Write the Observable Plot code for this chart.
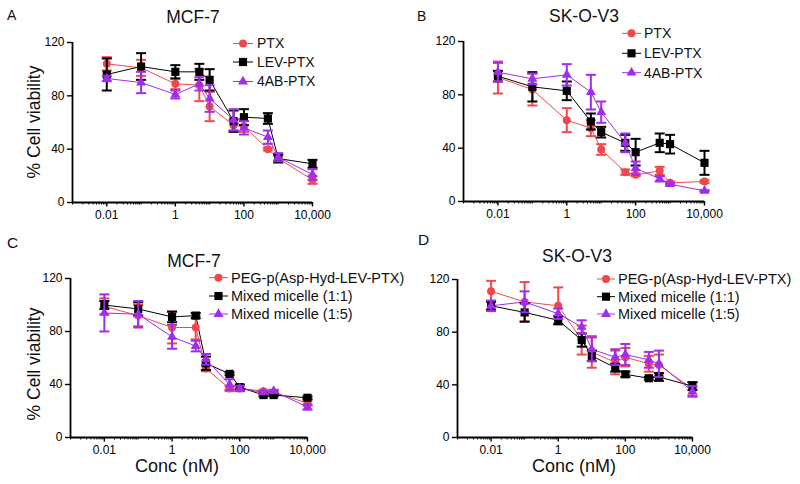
<!DOCTYPE html>
<html><head><meta charset="utf-8">
<script src="https://cdn.jsdelivr.net/npm/d3@7"></script>
<script src="https://cdn.jsdelivr.net/npm/@observablehq/plot@0.6"></script>
<style>
html,body{margin:0;padding:0;background:#fff;}
#root{position:relative;width:800px;height:484px;overflow:hidden;font-family:"Liberation Sans",Arial,sans-serif;}
.panel{position:absolute;width:400px;}
.panel svg{background:transparent;}
#overlay{position:absolute;left:0;top:0;pointer-events:none;overflow:visible;}
</style></head><body><div id="root"></div>
<script>
// ---------- shared axis data ----------
const conc = [0.01, 0.1, 1, 5, 10, 50, 100, 500, 1000, 10000];
const xDomain = [0.001, 10000];
const xTickValues = [0.01, 1, 100, 10000];
const xTickLabels = ["0.01", "1", "100", "10,000"];
const yTickValues = [0, 40, 80, 120];
const yDomain = [0, 120];

// ---------- series names ----------
const topNames = ["PTX", "LEV-PTX", "4AB-PTX"];
const bottomNames = ["PEG-p(Asp-Hyd-LEV-PTX)", "Mixed micelle (1:1)", "Mixed micelle (1:5)"];

// ---------- Panel A: MCF-7 ----------
const aPTX    = [104, 101, 89, 88, 72, 58, 57, 40, 33, 17];
const aPTXErr = [5, 6, 4, 12, 11, 4, 4, 1, 2, 3];
const aLEV    = [96, 102, 98, 98, 92, 61, 64, 63, 33, 29];
const aLEVErr = [12, 10, 5, 6, 8, 8, 6, 4, 3, 3];
const a4AB    = [93, 90, 81, 89, 78, 62, 56, 49, 34, 21];
const a4ABErr = [2, 8, 3, 5, 10, 8, 5, 5, 3, 4];

// ---------- Panel B: SK-O-V3 ----------
const bPTX    = [93, 84, 61, 55, 39, 22, 20, 23, 14, 15];
const bPTXErr = [12, 12, 9, 6, 4, 2, 1, 3, 1, 1];
const bLEV    = [94, 86, 83, 60, 52, 44, 37, 44, 43, 29];
const bLEVErr = [4, 11, 7, 6, 4, 6, 10, 7, 7, 9];
const b4AB    = [97, 92, 95, 82, 67, 44, 25, 17, 13, 8];
const b4ABErr = [7, 4, 8, 13, 8, 7, 5, 2, 1, 0.5];

// ---------- Panel C: MCF-7 ----------
const cPEG    = [99, 92, 83, 83, 52, 37, 37, 35, 34, 26];
const cPEGErr = [6, 8, 12, 9, 2, 2, 2, 1, 1, 2];
const cMix11    = [100, 97, 91, 92, 56, 48, 38, 32, 32, 30];
const cMix11Err = [3, 5, 4, 2, 5, 1, 2, 1, 1, 1];
const cMix15    = [94, 93, 76, 69, 59, 40, 37, 34, 35, 23];
const cMix15Err = [14, 10, 9, 4, 4, 4, 2, 1, 1, 2];

// ---------- Panel D: SK-O-V3 ----------
const dPEG    = [111, 103, 100, 74, 65, 57, 61, 56, 55, 37];
const dPEGErr = [8, 15, 14, 11, 12, 9, 7, 6, 8, 5];
const dMix11    = [100, 95, 89, 74, 62, 53, 48, 45, 46, 39];
const dMix11Err = [3, 7, 3, 5, 4, 3, 2, 1, 3, 3];
const dMix15    = [100, 103, 94, 84, 67, 61, 63, 59, 56, 35];
const dMix15Err = [4, 8, 4, 5, 9, 6, 8, 6, 10, 4];

// ---------- styling ----------
const colors = ["#f2484b", "#000000", "#a02cf0"];
const symbols = ["circle", "square", "triangle"];
const radii = [4, 4.6, 3.7];
const FONT = '"Liberation Sans", Arial, sans-serif';

const capSymbol = {
  draw(ctx, size) {
    const w = Math.sqrt(size / Math.PI);
    ctx.moveTo(-w, 0); ctx.lineTo(w, 0);
  }
};

const minorTicks = d3.scaleLog().domain(xDomain).ticks().filter(t => !xTickValues.some(m => Math.abs(m - t) / m < 1e-9));

function buildRows(values, errs) {
  return conc.map((c, i) => ({x: c, y: values[i], lo: values[i] - errs[i], hi: values[i] + errs[i]}));
}

function makePanel(cfg) {
  const marks = [
    Plot.axisX({ticks: minorTicks, tickFormat: () => "", tickSize: 2.5, strokeWidth: 1, label: null}),
    Plot.axisX({ticks: xTickValues, tickFormat: d => xTickLabels[xTickValues.indexOf(d)], tickSize: 4.5, tickPadding: 3, fontSize: 12, strokeWidth: 1.4, label: null}),
    Plot.axisY({ticks: yTickValues, tickSize: 5, tickPadding: 3, fontSize: 12, strokeWidth: 1.4, label: null}),
    Plot.ruleX([xDomain[0]], {y1: yDomain[0], y2: yDomain[1], strokeWidth: 1.8}),
    Plot.ruleY([yDomain[0]], {x1: xDomain[0], x2: xDomain[1], strokeWidth: 1.8})
  ];
  const sets = cfg.series.map(([v, e]) => buildRows(v, e));
  sets.forEach((rows, k) => {
    marks.push(Plot.line(rows, {x: "x", y: "y", stroke: colors[k], strokeWidth: 1}));
  });
  sets.forEach((rows, k) => {
    marks.push(
      Plot.ruleX(rows, {x: "x", y1: "lo", y2: "hi", stroke: colors[k], strokeWidth: 2}),
      Plot.dot(rows, {x: "x", y: "hi", symbol: capSymbol, r: 5, stroke: colors[k], strokeWidth: 2, fill: "none"}),
      Plot.dot(rows, {x: "x", y: "lo", symbol: capSymbol, r: 5, stroke: colors[k], strokeWidth: 2, fill: "none"}),
      Plot.dot(rows, {x: "x", y: "y", symbol: symbols[k], r: radii[k], fill: colors[k]})
    );
  });
  return Plot.plot({
    width: 400, height: cfg.height,
    marginLeft: cfg.ml, marginRight: cfg.mr, marginTop: cfg.mt, marginBottom: cfg.mb,
    x: {type: "log", domain: xDomain},
    y: {domain: yDomain},
    style: {fontFamily: FONT, fontSize: "12px", color: "#000", background: "transparent", overflow: "visible"},
    marks
  });
}

const panels = [
  {left: 0, top: 0, height: 240, ml: 72, mr: 88, mt: 42, mb: 38,
   series: [[aPTX, aPTXErr], [aLEV, aLEVErr], [a4AB, a4ABErr]]},
  {left: 400, top: 0, height: 240, ml: 63, mr: 96, mt: 41, mb: 39,
   series: [[bPTX, bPTXErr], [bLEV, bLEVErr], [b4AB, b4ABErr]]},
  {left: 0, top: 240, height: 244, ml: 70, mr: 93, mt: 38, mb: 47,
   series: [[cPEG, cPEGErr], [cMix11, cMix11Err], [cMix15, cMix15Err]]},
  {left: 400, top: 240, height: 244, ml: 57, mr: 108, mt: 39, mb: 47,
   series: [[dPEG, dPEGErr], [dMix11, dMix11Err], [dMix15, dMix15Err]]}
];

const root = document.getElementById("root");
panels.forEach(p => {
  const div = document.createElement("div");
  div.className = "panel";
  div.style.left = p.left + "px";
  div.style.top = p.top + "px";
  div.appendChild(makePanel(p));
  root.appendChild(div);
});

// ---------- overlay: titles, labels, legends ----------
const panelLetters = ["A", "B", "C", "D"];
const panelTitles = ["MCF-7", "SK-O-V3", "MCF-7", "SK-O-V3"];
const yLabel = "% Cell viability";
const xLabel = "Conc (nM)";

const svg = d3.select(root).append("svg").attr("id", "overlay")
  .attr("width", 800).attr("height", 484)
  .style("font-family", FONT).attr("fill", "#111");

const letterPos = [[7, 20, 14], [417, 21, 14], [7, 248, 15.5], [418, 245, 15.5]];
panelLetters.forEach((t, i) => {
  svg.append("text").attr("x", letterPos[i][0]).attr("y", letterPos[i][1])
    .attr("font-size", letterPos[i][2]).text(t);
});
const titlePos = [[193, 23], [584, 22], [194, 267], [577, 262]];
panelTitles.forEach((t, i) => {
  svg.append("text").attr("x", titlePos[i][0]).attr("y", titlePos[i][1])
    .attr("text-anchor", "middle").attr("font-size", 17.5).text(t);
});
[[39.5, 122], [39.5, 364]].forEach(([x, y]) => {
  svg.append("text").attr("transform", `translate(${x},${y}) rotate(-90)`)
    .attr("text-anchor", "middle").attr("font-size", 17.5).text(yLabel);
});
[[177, 472], [574, 472]].forEach(([x, y]) => {
  svg.append("text").attr("x", x).attr("y", y)
    .attr("text-anchor", "middle").attr("font-size", 18).text(xLabel);
});

const legends = [
  {names: topNames, x1: 233, x2: 253, tx: 257, ys: [43.5, 62, 81.5], fs: 14},
  {names: topNames, x1: 622, x2: 641, tx: 644, ys: [33.3, 53.3, 72.7], fs: 14},
  {names: bottomNames, x1: 209, x2: 228, tx: 231, ys: [277.7, 296, 314], fs: 14.5},
  {names: bottomNames, x1: 597, x2: 615, tx: 618, ys: [279, 296.7, 314], fs: 14.5}
];
const d3sym = {circle: d3.symbolCircle, square: d3.symbolSquare, triangle: d3.symbolTriangle};
legends.forEach(L => {
  L.names.forEach((name, k) => {
    const y = L.ys[k];
    const g = svg.append("g");
    g.append("line").attr("x1", L.x1).attr("x2", L.x2).attr("y1", y).attr("y2", y)
      .attr("stroke", colors[k]).attr("stroke-width", 1);
    g.append("path").attr("transform", `translate(${(L.x1 + L.x2) / 2},${y})`)
      .attr("d", d3.symbol(d3sym[symbols[k]], radii[k] * radii[k] * Math.PI)())
      .attr("fill", colors[k]);
    g.append("text").attr("x", L.tx).attr("y", y).attr("dy", "0.35em")
      .attr("font-size", L.fs).text(name);
  });
});
</script></body></html>
